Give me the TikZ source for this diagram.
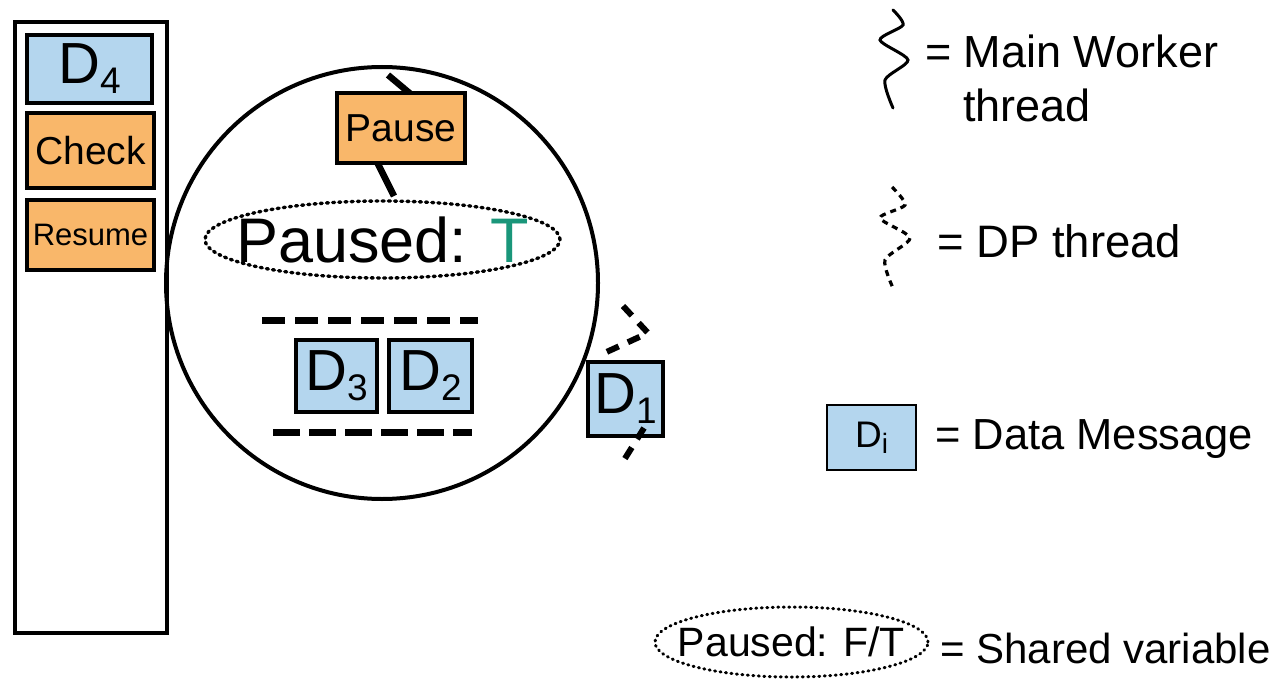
\documentclass[tikz,border=0pt]{standalone}
\usepackage{fontspec}
\setmainfont{Liberation Sans}
\usetikzlibrary{shapes.geometric,calc}
\definecolor{msgblue}{RGB}{180,214,238}
\definecolor{ctlorange}{RGB}{249,183,106}
\definecolor{flagteal}{RGB}{26,150,122}
\newcommand{\fs}[1]{\fontsize{#1}{#1}\selectfont}
% data message label: big D with a lowered index
\newcommand{\dmsg}[1]{\fs{58}D\raisebox{-10pt}{\fs{37}#1}}
\begin{document}
\begin{tikzpicture}[x=1pt,y=-1pt,
  box/.style={draw, line width=3.4pt, rectangle, inner sep=0pt},
  msg/.style={box, fill=msgblue},
  ctl/.style={box, fill=ctlorange},
  flag/.style={ellipse, draw, line width=3.4pt, dash pattern=on 2pt off 4.2pt, line cap=round, inner sep=0pt},
  mainthr/.style={line width=6.5pt},
  dpthr/.style={line width=6pt, dash pattern=on 13pt off 10pt},
  legtext/.style={anchor=base west, inner sep=0pt},
  rowdash/.style={line width=7pt}]
\useasboundingbox (0,0) rectangle (1282,682);

% operator queue of the worker
\node[box, minimum width=152pt, minimum height=611pt] (queue) at (91,327.5) {};
\node[msg, minimum width=125pt, minimum height=68pt] (d4) at (89.5,69) {\dmsg{4}};
\node[ctl, minimum width=127pt, minimum height=75pt] (check) at (90.5,150.5) {\fs{39}Check};
\node[ctl, minimum width=127pt, minimum height=70pt] (resume) at (90.5,235) {\fs{31}Resume};

% worker internals
\node[circle, draw, line width=4pt, minimum size=432pt, inner sep=0pt] (worker) at (382,283) {};

% main worker thread passing through the pause control
\coordinate (thrA) at (388,75);
\coordinate (thrB) at (413,96);
\coordinate (thrC) at (375,158);
\coordinate (thrD) at (394,196);
\draw[mainthr] (thrA) -- (thrB);
\draw[mainthr] (thrC) -- (thrD);

\node[ctl, minimum width=128pt, minimum height=70pt] (pause) at (401,128) {\fs{39}Pause};
\node[flag, minimum width=355pt, minimum height=77pt,
  label={[inner sep=0pt]center:\fs{63}Paused: \textcolor{flagteal}{T}}] (flagT) at (382.5,239.5) {};

% buffered data messages
\coordinate (rowTL) at (262,320);
\coordinate (rowTR) at (478,320);
\coordinate (rowBL) at (273,432);
\coordinate (rowBR) at (472,432);
\draw[rowdash, dash pattern=on 23pt off 10pt] (rowTL) -- (rowTR);
\draw[rowdash, dash pattern=on 27pt off 9pt] (rowBL) -- (rowBR);
\node[msg, minimum width=81pt, minimum height=72pt] (d3) at (336.5,376) {\dmsg{3}};
\node[msg, minimum width=83pt, minimum height=72pt] (d2) at (430.5,376) {\dmsg{2}};

% incoming data message on the DP thread
\coordinate (dpA) at (623,306);
\coordinate (dpB) at (648,333);
\coordinate (dpC) at (600,355);
\coordinate (dpD) at (644,428);
\coordinate (dpE) at (624,460);
\node[msg, minimum width=75pt, minimum height=74pt] (d1) at (625.5,399) {\dmsg{1}};
\draw[dpthr] (dpA) -- (dpB) -- (dpC);
\draw[dpthr] (dpD) -- (dpE);

% legend
\draw[line width=3pt, line cap=round] plot[smooth, tension=0.45] coordinates
  {(893,10) (903,25) (880,40) (908,60) (885,80) (893,108)};
\node[legtext] (legMain) at (925,68) {\fs{45}= Main Worker};
\node[legtext] (legMain2) at (963,122) {\fs{45}thread};

\draw[line width=3.2pt, dash pattern=on 6pt off 5pt] plot[smooth, tension=0.45] coordinates
  {(892,187) (905,205) (880,218) (910,238) (885,260) (893,288)};
\node[legtext] (legDP) at (937,257) {\fs{45.5}= DP thread};

\node[msg, line width=2.4pt, minimum width=89pt, minimum height=65pt] (legD) at (871.5,437.5)
  {\fs{37}D\raisebox{-6pt}{\fs{28}i}};
\node[legtext] (legData) at (935,449) {\fs{43.5}= Data Message};

\node[flag, line width=3pt, dash pattern=on 1pt off 4.5pt, minimum width=273pt, minimum height=70pt,
  label={[inner sep=0pt]center:\fs{41}Paused: F/T}] (legFlag) at (791.5,642) {};
\node[legtext] (legShared) at (940,663) {\fs{42}= Shared variable};
\end{tikzpicture}
\end{document}
